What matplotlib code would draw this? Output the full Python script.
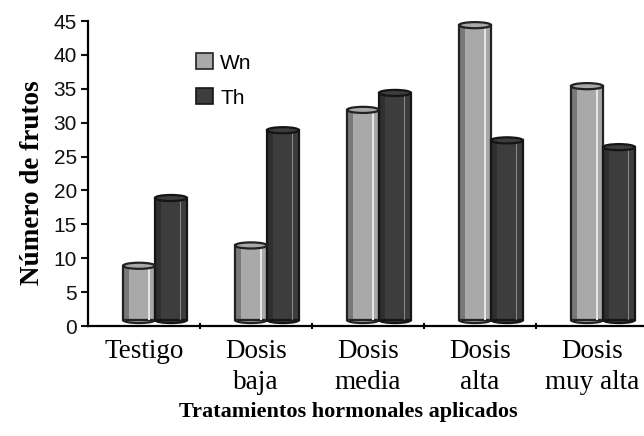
import numpy as np
import matplotlib
matplotlib.use("Agg")
import matplotlib.pyplot as plt
import matplotlib.transforms as mtransforms
from matplotlib.patches import Ellipse, Patch

# data
categories = ["Testigo", "Dosis\nbaja", "Dosis\nmedia", "Dosis\nalta", "Dosis\nmuy alta"]
wn_values = [8, 11, 31, 43.5, 34.5]
th_values = [18, 28, 33.5, 26.5, 25.5]
y_ticks = [0, 5, 10, 15, 20, 25, 30, 35, 40, 45]

fig = plt.figure(figsize=(6.44, 4.36), dpi=100)
ax = fig.add_axes([88 / 644, 110 / 436, 560 / 644, 305 / 436])

x = np.arange(len(categories))
w = 0.285

# fake 3D depth: shift the bars a bit right and up
trans = mtransforms.offset_copy(ax.transData, fig=fig, x=11, y=6, units="dots")

def cylinder(xc, val, face, edge, light):
    ax.bar(xc, val, width=w, color=face, edgecolor=edge, linewidth=1.6,
           transform=trans, zorder=2)
    # highlight stripe near the right side
    ax.bar(xc + 0.3 * w, val, width=0.06 * w, color=light, linewidth=0,
           transform=trans, zorder=3)
    # darker left rim
    ax.bar(xc - 0.4 * w, val, width=0.15 * w, color=edge, alpha=0.35,
           linewidth=0, transform=trans, zorder=3)
    cap_h = 0.9
    ax.add_patch(Ellipse((xc, val), w, cap_h, facecolor=face, edgecolor=edge,
                         linewidth=1.6, transform=trans, zorder=4))
    ax.add_patch(Ellipse((xc, 0), w, cap_h, facecolor=face, edgecolor=edge,
                         linewidth=1.6, transform=trans, zorder=1))

for xi, v in zip(x, wn_values):
    cylinder(xi - w / 2, v, "#a9a9a9", "#222222", "#e6e6e6")
for xi, v in zip(x, th_values):
    cylinder(xi + w / 2, v, "#3d3d3d", "#151515", "#8a8a8a")

ax.set_xlim(-0.5, 4.5)
ax.set_ylim(0, 45)
ax.set_yticks(y_ticks)
ax.set_yticklabels([str(t) for t in y_ticks], family="Liberation Sans", fontsize=15)
ax.set_xticks(x)
ax.set_xticklabels(categories, family="Liberation Serif", fontsize=19.5,
                   linespacing=1.35)
ax.set_xticks(np.arange(0.5, 4.5, 1), minor=True)
ax.tick_params(axis="x", which="major", length=0, pad=9)
ax.tick_params(axis="x", which="minor", length=5, direction="inout", width=1.5)
ax.tick_params(axis="y", length=5, width=1.5, pad=3, colors="#111111")

for s in ["top", "right"]:
    ax.spines[s].set_visible(False)
ax.spines["left"].set_linewidth(1.6)
ax.spines["bottom"].set_linewidth(1.6)

ax.set_ylabel("Número de frutos", family="Liberation Serif", fontweight="bold",
              fontsize=19.5)
ax.yaxis.set_label_coords(-0.077, 0.47)
ax.set_xlabel("Tratamientos hormonales aplicados", family="Liberation Serif",
              fontweight="bold", fontsize=16)
ax.xaxis.set_label_coords(0.465, -0.25)

handles = [Patch(facecolor="#a9a9a9", edgecolor="#222222", linewidth=1.2),
           Patch(facecolor="#3d3d3d", edgecolor="#151515", linewidth=1.2)]
ax.legend(handles, ["Wn", "Th"], loc="upper left", bbox_to_anchor=(0.16, 0.955),
          frameon=False, prop={"family": "Liberation Sans", "size": 15},
          handlelength=0.8, handleheight=0.8, handletextpad=0.35, labelspacing=0.75)

fig.savefig("out.png", dpi=100)
